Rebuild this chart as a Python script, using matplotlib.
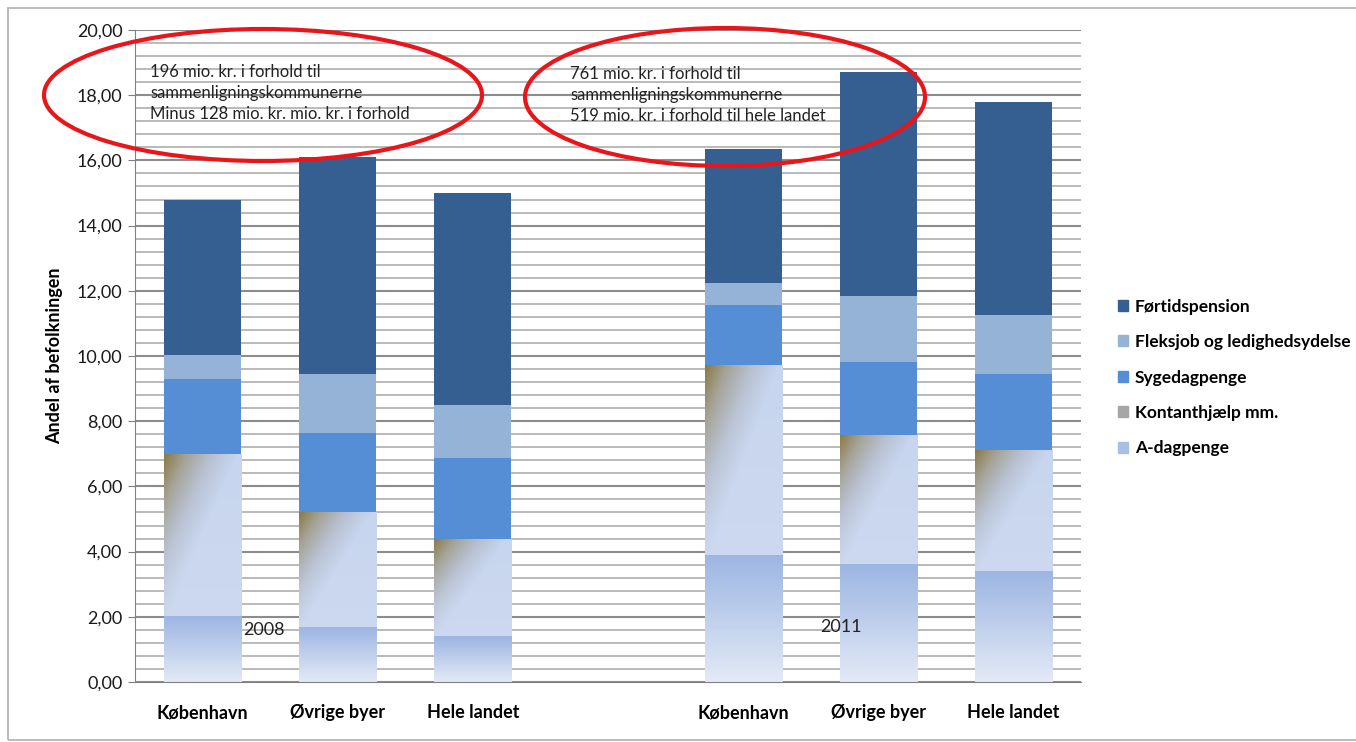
import numpy as np
import matplotlib
matplotlib.use("Agg")
import matplotlib.pyplot as plt
from matplotlib.patches import Ellipse, Patch, Rectangle
from matplotlib.colors import to_rgb
from matplotlib.ticker import MultipleLocator

plt.rcParams['font.family'] = ['Lato', 'DejaVu Sans']

# data
kategorier = ["København", "Øvrige byer", "Hele landet", "København", "Øvrige byer", "Hele landet"]
positioner = [0, 1, 2, 4, 5, 6]
a_dagpenge = [2.03, 1.70, 1.41, 3.90, 3.61, 3.41]
kontanthjaelp = [4.96, 3.52, 2.98, 5.82, 3.97, 3.71]
sygedagpenge = [2.30, 2.43, 2.49, 1.84, 2.24, 2.33]
fleksjob = [0.74, 1.80, 1.62, 0.68, 2.02, 1.81]
foertidspension = [4.75, 6.65, 6.50, 4.11, 6.87, 6.54]
serie_navne = ["A-dagpenge", "Kontanthjælp mm.", "Sygedagpenge",
               "Fleksjob og ledighedsydelse", "Førtidspension"]
y_ticks = [0, 2, 4, 6, 8, 10, 12, 14, 16, 18, 20]
y_labels = ["0,00", "2,00", "4,00", "6,00", "8,00", "10,00", "12,00", "14,00", "16,00", "18,00", "20,00"]

col_syg = "#558ed5"
col_fleks = "#95b3d7"
col_foer = "#365f91"

W, H = 1356, 742
fig = plt.figure(figsize=(W / 100, H / 100), dpi=100)
fig.patches.append(Rectangle((8 / W, 2 / H), 1.2, 1 - 10 / H, transform=fig.transFigure,
                             fill=False, edgecolor="#b0b0b0", lw=1.2))
ax = fig.add_axes([135 / W, 1 - 682 / H, 946 / W, 652 / H])

# grid
ax.yaxis.set_minor_locator(MultipleLocator(0.4))
ax.grid(which="minor", axis="y", color="#b4b4b4", lw=1.3, zorder=0)
ax.grid(which="major", axis="y", color="#8c8c8c", lw=1.5, zorder=0)
ax.set_axisbelow(True)

bw = 0.57
bund = np.zeros(6)
bars = []
for vals, col in zip([a_dagpenge, kontanthjaelp, sygedagpenge, fleksjob, foertidspension],
                     ["none", "none", col_syg, col_fleks, col_foer]):
    b = ax.bar(positioner, vals, bw, bottom=bund, color=col, edgecolor="none", zorder=2)
    bars.append(b)
    bund = bund + np.array(vals)

# gradient fills
top_c = np.array(to_rgb("#9cb5e2"))
bot_c = np.array(to_rgb("#e3eaf6"))
v = np.linspace(0, 1, 100)[:, None, None]
grad_a = top_c * (1 - v) + bot_c * v
grad_a = np.repeat(grad_a, 2, axis=1)

# diagonal gradient for Kontanthjælp
stops = [0.0, 0.3, 0.65, 1.0]
farver = [to_rgb("#8b7a48"), to_rgb("#a5a396"), to_rgb("#b8c1d2"), to_rgb("#c7d5ee")]
uu, vv = np.meshgrid(np.linspace(0, 1, 80), np.linspace(0, 1, 160))
t = np.clip(uu / 0.95 + vv / 1.05, 0, 1)
grad_k = np.stack([np.interp(t, stops, [f[i] for f in farver]) for i in range(3)], axis=-1)
w = (0.45 * vv * t)[..., None]
grad_k = grad_k * (1 - w) + np.array(to_rgb("#d3ddf2")) * w

for b, img in [(bars[0], grad_a), (bars[1], grad_k)]:
    for p in b.patches:
        x0, y0, bw_, bh = p.get_x(), p.get_y(), p.get_width(), p.get_height()
        im = ax.imshow(img, extent=[x0, x0 + bw_, y0, y0 + bh], aspect="auto",
                       origin="upper", zorder=2, interpolation="bilinear")
        im.set_clip_path(p)

ax.set_xlim(-0.5, 6.5)
ax.set_ylim(0, 20)
ax.set_yticks(y_ticks)
ax.set_yticklabels(y_labels, fontsize=13, color="#1a1a1a")
ax.set_xticks(positioner)
ax.set_xticklabels(kategorier, fontsize=13, fontweight="bold")
ax.tick_params(axis="x", length=0, pad=16)
ax.tick_params(axis="y", which="major", length=5, color="#808080", pad=4)
ax.tick_params(axis="y", which="minor", length=0)
for s in ["top", "right"]:
    ax.spines[s].set_visible(False)
ax.spines["left"].set_color("#808080")
ax.spines["bottom"].set_color("#808080")
ax.set_ylabel("Andel af befolkningen", fontsize=13, fontweight="bold", labelpad=10)

ax.text(0.30, 1.6, "2008", fontsize=13, color="#222222", va="center", zorder=5)
ax.text(4.57, 1.69, "2011", fontsize=13, color="#222222", va="center", zorder=5)

# ellipses with notes
fig.patches.append(Ellipse((263 / W, 1 - 95 / H), 438 / W, 132 / H, transform=fig.transFigure,
                           fill=False, edgecolor="#e8161b", lw=3, zorder=10))
fig.patches.append(Ellipse((725 / W, 1 - 97 / H), 400 / W, 138 / H, transform=fig.transFigure,
                           fill=False, edgecolor="#e8161b", lw=3, zorder=10))
fig.text(150 / W, 1 - 93 / H,
         "196 mio. kr. i forhold til\nsammenligningskommunerne\nMinus 128 mio. kr. mio. kr. i forhold",
         fontsize=12, va="center", ha="left", linespacing=1.35, color="#222222")
fig.text(570 / W, 1 - 95 / H,
         "761 mio. kr. i forhold til\nsammenligningskommunerne\n519 mio. kr. i forhold til hele landet",
         fontsize=12, va="center", ha="left", linespacing=1.35, color="#222222")

# legend
handles = [Patch(color=col_foer), Patch(color=col_fleks), Patch(color=col_syg),
           Patch(color="#a4a6a8"), Patch(color="#a9bee6")]
fig.legend(handles, serie_navne[::-1], loc="upper left", bbox_to_anchor=(1102 / W, 1 - 283 / H),
           frameon=False, handlelength=0.6, handleheight=0.6, handletextpad=0.4,
           labelspacing=1.12, prop={"size": 12.5, "weight": "bold"})

fig.savefig("out.png", dpi=100)
